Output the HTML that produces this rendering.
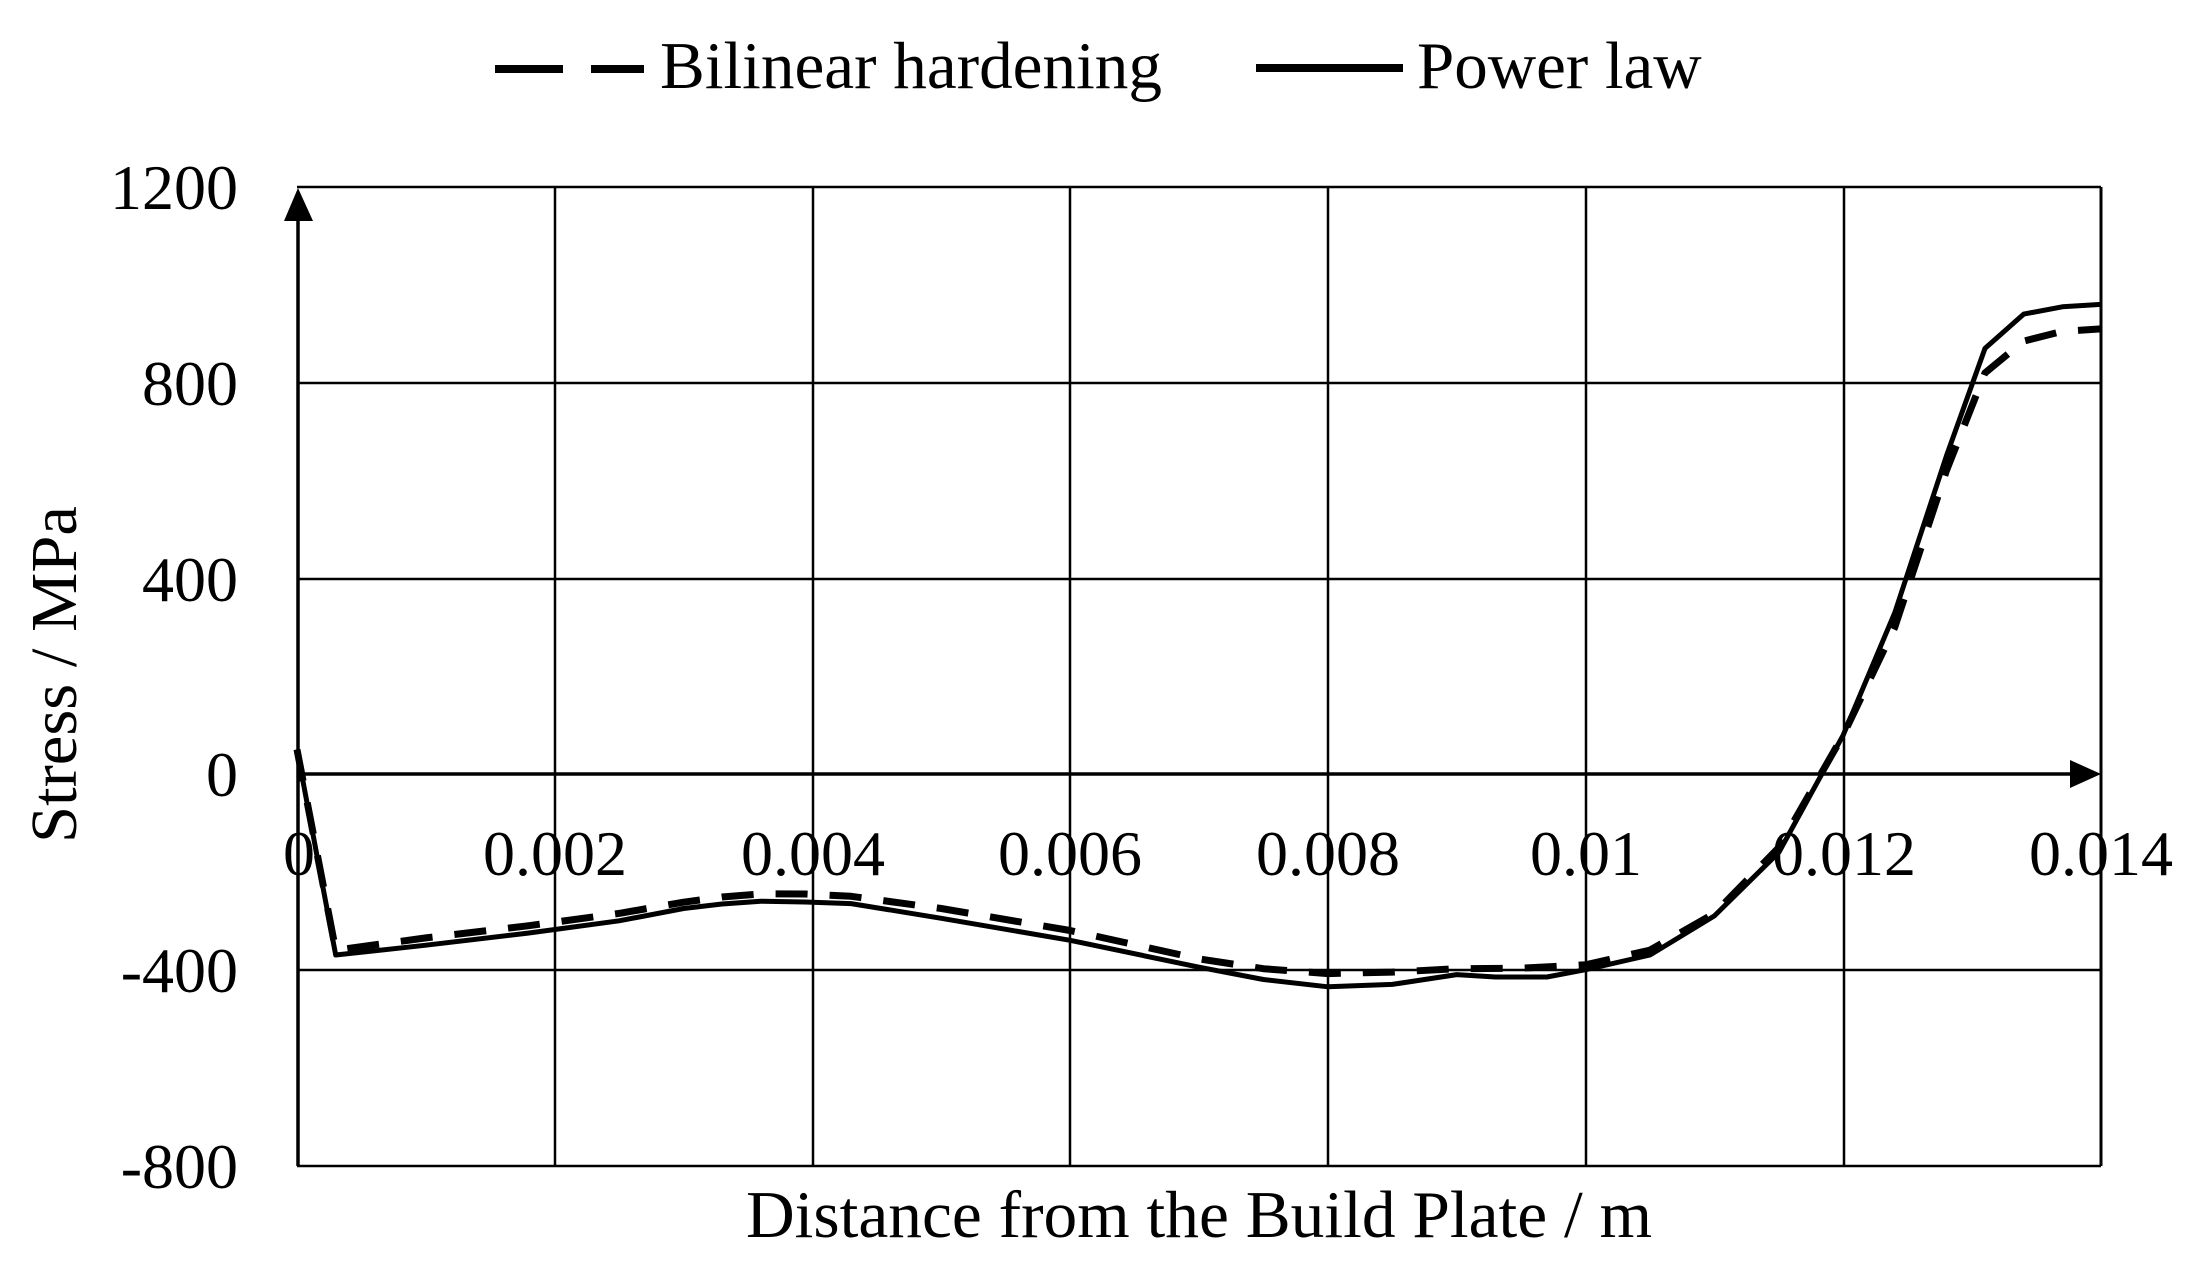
<!DOCTYPE html>
<html><head><meta charset="utf-8"><style>
html,body{margin:0;padding:0;background:#fff;}
svg{display:block;}
text{font-family:"Liberation Serif",serif;fill:#000;}
</style></head><body>
<svg width="2199" height="1282" viewBox="0 0 2199 1282" xmlns="http://www.w3.org/2000/svg">
<rect width="2199" height="1282" fill="#fff"/>
<g stroke="#000" stroke-width="2.5" fill="none">
<line x1="297" y1="187" x2="2101" y2="187"/>
<line x1="297" y1="383" x2="2101" y2="383"/>
<line x1="297" y1="579" x2="2101" y2="579"/>
<line x1="297" y1="970" x2="2101" y2="970"/>
<line x1="297" y1="1166" x2="2101" y2="1166"/>
<line x1="555" y1="187" x2="555" y2="1166"/>
<line x1="813" y1="187" x2="813" y2="1166"/>
<line x1="1070" y1="187" x2="1070" y2="1166"/>
<line x1="1328" y1="187" x2="1328" y2="1166"/>
<line x1="1586" y1="187" x2="1586" y2="1166"/>
<line x1="1844" y1="187" x2="1844" y2="1166"/>
<line x1="2101" y1="187" x2="2101" y2="1166" stroke-width="3"/>
</g>
<g stroke="#000" stroke-width="3.5">
<line x1="298" y1="215" x2="298" y2="1166"/>
<line x1="297" y1="774" x2="2075" y2="774"/>
</g>
<polygon points="298,188 284,221 313,221" fill="#000"/>
<polygon points="2101,774 2070,760 2070,788" fill="#000"/>
<polyline fill="none" stroke="#000" stroke-width="7" stroke-dasharray="32 22" stroke-linejoin="round"
points="297,749.5 335.7,950.1 425.9,937.9 528.9,925.7 619.1,913.4 683.6,902.2 722,897 760.9,893.9 805,894 851.1,896.3 941.3,908.5 1070.1,930.5 1199,958.9 1263.4,968.7 1327.9,973.6 1392.3,972.1 1456.7,968.7 1521.2,968.2 1585.6,964.8 1650,950.1 1714.4,913.4 1778.9,847.4 1843.3,734.9 1894.8,627.2 1946.4,470.7 1985,372.9 2023.7,341.1 2062.4,331.3 2101,328.9"/>
<polyline fill="none" stroke="#000" stroke-width="5" stroke-linejoin="round"
points="297,749.5 335.7,955 425.9,945.2 528.9,933 619.1,920.8 683.6,908.5 722,904 760.9,901.2 805,902 851.1,903.6 941.3,918.3 1070.1,940.3 1199,967.2 1263.4,979.5 1327.9,986.8 1392.3,984.4 1456.7,974.6 1495.4,977 1546.9,977 1585.6,969.7 1650,955 1714.4,915.9 1778.9,852.3 1843.3,734.9 1894.8,612.6 1946.4,456 1985,348.4 2023.7,314.1 2062.4,306.8 2101,304.4"/>
<g font-size="64" text-anchor="end">
<text x="238" y="209">1200</text>
<text x="238" y="405">800</text>
<text x="238" y="601">400</text>
<text x="238" y="796">0</text>
<text x="238" y="992">-400</text>
<text x="238" y="1188">-800</text>
</g>
<g font-size="64" text-anchor="middle">
<text x="299" y="875">0</text>
<text x="555" y="875">0.002</text>
<text x="813" y="875">0.004</text>
<text x="1070" y="875">0.006</text>
<text x="1328" y="875">0.008</text>
<text x="1586" y="875">0.01</text>
<text x="1844" y="875">0.012</text>
<text x="2101" y="875">0.014</text>
</g>
<text x="746" y="1237" font-size="67" textLength="906" lengthAdjust="spacingAndGlyphs">Distance from the Build Plate / m</text>
<text transform="translate(76,843) rotate(-90)" font-size="66" textLength="337" lengthAdjust="spacingAndGlyphs">Stress / MPa</text>
<g stroke="#000" stroke-width="8">
<line x1="495" y1="69" x2="563" y2="69"/>
<line x1="591" y1="69" x2="644" y2="69"/>
<line x1="1256" y1="68" x2="1403" y2="68"/>
</g>
<text x="660" y="88" font-size="67" textLength="502" lengthAdjust="spacingAndGlyphs">Bilinear hardening</text>
<text x="1417" y="88" font-size="67">Power law</text>
</svg>
</body></html>
